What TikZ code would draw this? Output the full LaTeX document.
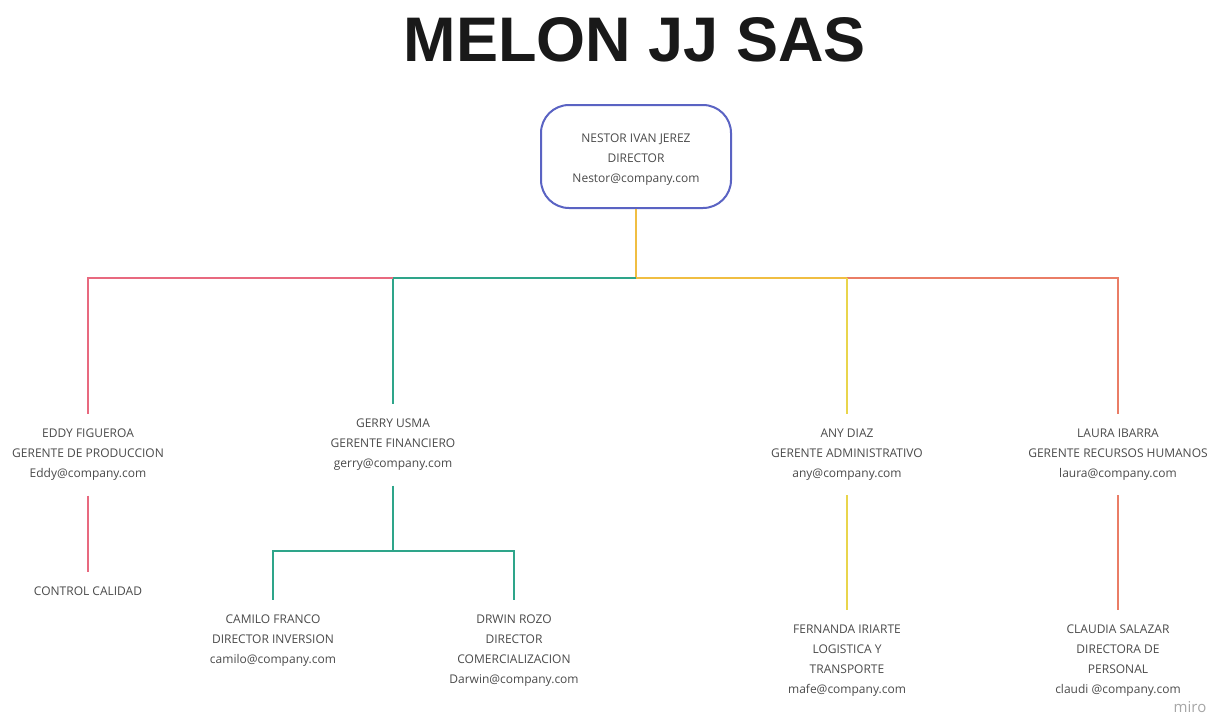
\documentclass[tikz,border=0pt]{standalone}
\usepackage{fontspec}
\setmainfont{Open Sans}
\newfontfamily\titlefont{Liberation Sans}

\definecolor{rojo}{HTML}{E8697F}
\definecolor{verde}{HTML}{2EA58A}
\definecolor{oro}{HTML}{F0BE42}
\definecolor{amarillo}{HTML}{E9D54C}
\definecolor{naranja}{HTML}{EA7D66}
\definecolor{azul}{HTML}{5A63C3}
\definecolor{texto}{HTML}{4A4A4A}

\begin{document}
\begin{tikzpicture}[x=1pt, y=-1pt, line width=2pt,
every node/.style={align=center, anchor=north, %text depth=.5ex,
    inner xsep=2pt, inner ysep=14pt, text=texto,
    font=\fontsize{12}{20}\selectfont
    }
]
\useasboundingbox (0,0) rectangle (1214,715);

\node[anchor=center, inner sep=0pt, text=black!90,
      font=\titlefont\bfseries\fontsize{63}{63}\selectfont] (titulo) at (635,40) {MELON JJ SAS};

\node[draw=azul, rounded corners=28pt, minimum width=190pt, minimum height=103pt,
      anchor=center, inner sep=0pt] (nestor) at (636,156.5)
      {\rule{0pt}{15pt}NESTOR IVAN JEREZ\\DIRECTOR\\Nestor@company.com};

\coordinate (eje) at (636,278);
\coordinate (eje fin) at (393,278);
\coordinate (eje adm) at (847,278);
\coordinate (eje fin2) at (393,551);

\node (eddy) at (88,414) {EDDY FIGUEROA\\GERENTE DE PRODUCCION\\Eddy@company.com};
\node (gerry) at (393,404) {GERRY USMA\\GERENTE FINANCIERO\\gerry@company.com};
\node (any) at (847,414) {ANY DIAZ\\GERENTE ADMINISTRATIVO\\any@company.com};
\node (laura) at (1118,414) {LAURA IBARRA\\GERENTE RECURSOS HUMANOS\\laura@company.com};

\node (calidad) at (88,572) {CONTROL CALIDAD};
\node (camilo) at (273,600) {CAMILO FRANCO\\DIRECTOR INVERSION\\camilo@company.com};
\node (darwin) at (514,600) {DRWIN ROZO\\DIRECTOR\\COMERCIALIZACION\\Darwin@company.com};
\node (fernanda) at (847,610) {FERNANDA IRIARTE\\LOGISTICA Y\\TRANSPORTE\\mafe@company.com};
\node (claudia) at (1118,610) {CLAUDIA SALAZAR\\DIRECTORA DE\\PERSONAL\\claudi @company.com};

\node[anchor=center, inner sep=0pt, text=black!35, font=\fontsize{15}{15}\selectfont] (miro) at (1190,707) {miro};

\draw[oro] (nestor) -- (eje) -- (eje adm);

\foreach \a/\b/\c in {eje/gerry/verde, eje fin/eddy/rojo, eje adm/laura/naranja,
                      eje fin2/camilo/verde, eje fin2/darwin/verde}
    \draw[\c] (\a) -| (\b);

\foreach \a/\b/\c in {eje adm/any/amarillo, eddy/calidad/rojo, gerry/eje fin2/verde,
                      any/fernanda/amarillo, laura/claudia/naranja}
    \draw[\c] (\a) -- (\b);

\end{tikzpicture}
\end{document}
